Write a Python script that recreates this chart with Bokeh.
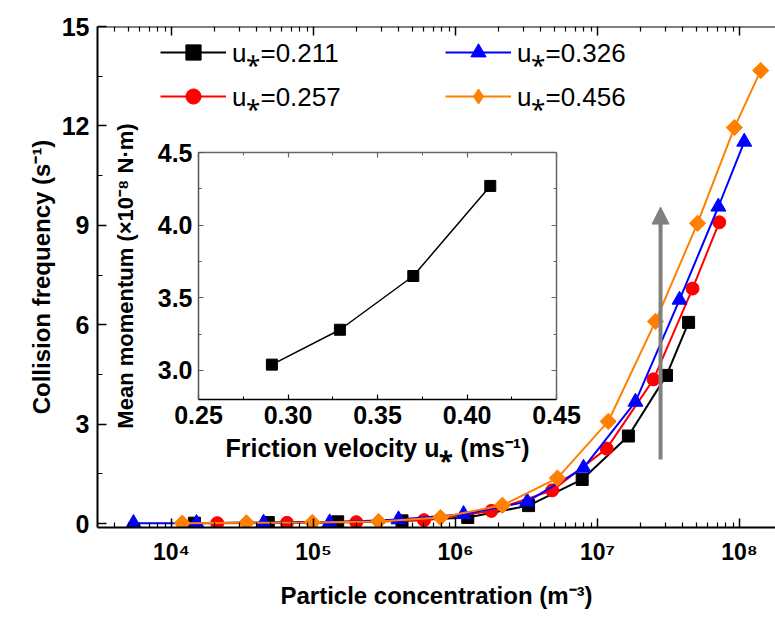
import numpy as np
from bokeh.plotting import figure
from bokeh.models import (Range1d, LinearScale, LinearAxis, LogAxis, FixedTicker,
                          CustomJSTickFormatter, NumeralTickFormatter, Legend, LegendItem,
                          Arrow, NormalHead)
from bokeh.embed import file_html
from bokeh.resources import INLINE

# ---------------- data ----------------
conc_0211 = [1.45e4, 4.8e4, 1.48e5, 4.2e5, 1.22e6, 3.27e6, 7.8e6, 1.65e7, 3.06e7, 4.38e7]
freq_0211 = [0.01, 0.03, 0.05, 0.08, 0.18, 0.54, 1.33, 2.64, 4.47, 6.07]

conc_0257 = [2.1e4, 6.5e4, 2.0e5, 6.0e5, 1.79e6, 4.8e6, 1.16e7, 2.48e7, 4.67e7, 7.2e7]
freq_0257 = [0.01, 0.02, 0.04, 0.10, 0.38, 1.00, 2.26, 4.35, 7.09, 9.09]

conc_0326 = [5.4e3, 1.5e4, 4.45e4, 1.3e5, 3.97e5, 1.14e6, 3.2e6, 7.97e6, 1.85e7, 3.78e7, 7.1e7, 1.08e8]
freq_0326 = [0.01, 0.01, 0.02, 0.03, 0.12, 0.28, 0.66, 1.68, 3.67, 6.75, 9.56, 11.52]

conc_0456 = [1.19e4, 3.37e4, 9.8e4, 2.87e5, 7.84e5, 2.14e6, 5.22e6, 1.19e7, 2.56e7, 5.06e7, 9.2e7, 1.41e8]
freq_0456 = [0.01, 0.02, 0.03, 0.06, 0.18, 0.55, 1.37, 3.08, 6.10, 9.06, 11.95, 13.67]

labels = ["u\u204e=0.211", "u\u204e=0.257", "u\u204e=0.326", "u\u204e=0.456"]

ustar_inset = [0.291, 0.329, 0.370, 0.413]
momentum_inset = [3.04, 3.28, 3.65, 4.27]

x_major = [1e4, 1e5, 1e6, 1e7, 1e8]
x_minor = [k * 10.0 ** e for e in range(3, 9) for k in range(2, 10)]
y_major = [0, 3, 6, 9, 12, 15]
y_minor = [1.5, 4.5, 7.5, 10.5, 13.5]
ix_major = [0.25, 0.30, 0.35, 0.40, 0.45]
ix_minor = [0.275, 0.325, 0.375, 0.425]
iy_major = [3.0, 3.5, 4.0, 4.5]
iy_minor = [3.25, 3.75, 4.25]

# arrow annotation (data coordinates)
ARROW_X = 2.78e7
ARROW_Y0 = 1.93
ARROW_Y1 = 9.55

# ---------------- layout geometry (canvas pixels) ----------------
W, H = 775, 619
FL, FR, FT, FB = 97, 775, 26, 527          # main frame
X4_PX, DEC_PX = 171, 142                   # px of 10^4, px per decade
Y0_PX = 523                                # px of y = 0
IL, IR, IT, IB = 198, 556, 152, 399        # inset box
IX0, IX1, IY0, IY1 = 0.25, 0.45, 2.8, 4.5  # inset ranges

x_start = 10 ** (4 + (FL - X4_PX) / DEC_PX)
x_end = 10 ** (4 + (FR - X4_PX) / DEC_PX)
y_per_px = 15.0 / (Y0_PX - FT)
y_start = -(FB - Y0_PX) * y_per_px

ix_per_px = (IX1 - IX0) / (IR - IL)
iy_per_px = (IY1 - IY0) / (IB - IT)
ix_start = IX0 - (IL - FL) * ix_per_px
ix_end = IX1 + (FR - IR) * ix_per_px
iy_start = IY0 - (FB - IB) * iy_per_px
iy_end = IY1 + (IT - FT) * iy_per_px

ARIAL = "'Liberation Sans', Arial, sans-serif"

p = figure(width=W, height=H, x_axis_type="log",
           x_range=Range1d(x_start, x_end), y_range=Range1d(y_start, 15),
           output_backend="svg", toolbar_location=None,
           min_border_left=FL, min_border_right=W - FR,
           min_border_top=FT, min_border_bottom=H - FB)
p.outline_line_color = None
p.xgrid.grid_line_color = None
p.ygrid.grid_line_color = None
p.background_fill_color = "white"
p.border_fill_color = "white"

p.extra_x_ranges = {"ix": Range1d(ix_start, ix_end)}
p.extra_x_scales = {"ix": LinearScale()}
p.extra_y_ranges = {"iy": Range1d(iy_start, iy_end)}
p.extra_y_scales = {"iy": LinearScale()}

sup_code = """
const sup = {"-":"\u207b","0":"\u2070","1":"\u00b9","2":"\u00b2","3":"\u00b3","4":"\u2074",
             "5":"\u2075","6":"\u2076","7":"\u2077","8":"\u2078","9":"\u2079"};
const e = Math.round(Math.log10(tick));
return "10" + String(e).split("").map(c => sup[c]).join("");
"""

xa = p.xaxis[0]
xa.ticker = FixedTicker(ticks=x_major, minor_ticks=x_minor)
xa.formatter = CustomJSTickFormatter(code=sup_code)
xa.axis_label = "Particle concentration (m\u207b\u00b3)"
ya = p.yaxis[0]
ya.ticker = FixedTicker(ticks=y_major, minor_ticks=y_minor)
ya.axis_label = "Collision frequency (s\u207b\u00b9)"
for ax in (xa, ya):
    ax.axis_line_width = 2
    ax.axis_line_color = "black"
    ax.major_tick_in = 9
    ax.major_tick_out = 0
    ax.minor_tick_in = 5
    ax.minor_tick_out = 0
    ax.major_tick_line_width = 1.5
    ax.minor_tick_line_width = 1.2
    ax.major_label_text_font = ARIAL
    ax.major_label_text_font_style = "bold"
    ax.major_label_text_color = "black"
    ax.axis_label_text_font = ARIAL
    ax.axis_label_text_font_style = "bold"
    ax.axis_label_text_font_size = "24px"
    ax.axis_label_text_color = "black"
xa.major_label_text_font_size = "23px"
ya.major_label_text_font_size = "25px"
xa.major_label_standoff = 11
xa.axis_label_standoff = 14
ya.major_label_standoff = 8
ya.axis_label_standoff = 4

top = LogAxis(fixed_location=15, ticker=FixedTicker(ticks=x_major, minor_ticks=x_minor),
              formatter=CustomJSTickFormatter(code="return '';"),
              axis_line_width=2, major_tick_in=9, major_tick_out=0,
              minor_tick_in=5, minor_tick_out=0,
              major_tick_line_width=1.5, minor_tick_line_width=1.2)
p.add_layout(top, "above")

# ---- main series
series = [
    (conc_0211, freq_0211, "black", "square", 12, 0.0),
    (conc_0257, freq_0257, "#ff0000", "circle", 13, 0.0),
    (conc_0326, freq_0326, "#0000ff", "triangle", 15, 0.0),
    (conc_0456, freq_0456, "#ff8000", "square", 11.5, np.pi / 4),
]
legend_markers = ["square", "circle", "triangle", "diamond"]
rends = []
for (xs, ys, col, mk, sz, ang), lab, lmk in zip(series, labels, legend_markers):
    l = p.line(xs, ys, line_color=col, line_width=2)
    s = p.scatter(xs, ys, marker=mk, size=sz, angle=ang, fill_color=col, line_color=col)
    if lmk != mk:
        # legend-only symbol: a single NaN point, never drawn in the plot
        s = p.scatter(x=[np.nan], y=[np.nan], marker=lmk, size=sz,
                      fill_color=col, line_color=col)
    rends.append((lab, [l, s]))

# ---- legends (two columns)
leg_pos = [(63, 456), (63, 412), (348, 456), (348, 412)]
for (lab, rr), loc in zip(rends, leg_pos):
    leg = Legend(items=[LegendItem(label=lab, renderers=rr)], location=loc,
                 glyph_width=66, glyph_height=38, label_height=38, label_width=20,
                 label_standoff=6, padding=0, margin=0, spacing=0,
                 border_line_color=None, background_fill_alpha=0,
                 label_text_font=ARIAL, label_text_font_size="26px",
                 label_text_color="black")
    p.add_layout(leg, "center")

# ---- arrow
p.add_layout(Arrow(end=NormalHead(size=17, fill_color="#808080", line_color="#808080"),
                   x_start=ARROW_X, y_start=ARROW_Y0, x_end=ARROW_X, y_end=ARROW_Y1,
                   line_color="#808080", line_width=4))

# ---- inset
p.line(ustar_inset, momentum_inset, x_range_name="ix", y_range_name="iy",
       line_color="black", line_width=1.5)
p.scatter(ustar_inset, momentum_inset, x_range_name="ix", y_range_name="iy",
          marker="square", size=11, fill_color="black", line_color="black")


def inset_axis(side, loc, bounds, ticks, minor, fmt, label, col, title_size="23px"):
    ax = LinearAxis(x_range_name="ix", y_range_name="iy", fixed_location=loc, bounds=bounds,
                    ticker=FixedTicker(ticks=ticks, minor_ticks=minor), formatter=fmt,
                    axis_line_color=col, axis_line_width=1.5,
                    major_tick_in=5, major_tick_out=0, minor_tick_in=3, minor_tick_out=0,
                    major_tick_line_color=col, minor_tick_line_color=col,
                    major_tick_line_width=1.2, minor_tick_line_width=1.0,
                    major_label_text_font=ARIAL, major_label_text_font_style="bold",
                    major_label_text_font_size="25px", major_label_text_color="black",
                    major_label_standoff=6)
    if label:
        ax.axis_label = label
        ax.axis_label_text_font = ARIAL
        ax.axis_label_text_font_style = "bold"
        ax.axis_label_text_font_size = title_size
        ax.axis_label_text_color = "black"
    p.add_layout(ax, side)
    return ax


ib = inset_axis("below", IY0, (IX0, IX1), ix_major, ix_minor, NumeralTickFormatter(format="0.00"),
                "Friction velocity u\u204e (ms\u207b\u00b9)", "black", "25px")
ib.axis_label_standoff = 7
il = inset_axis("left", IX0, (IY0, IY1), iy_major, iy_minor, NumeralTickFormatter(format="0.0"),
                "Mean momentum (\u00d710\u207b\u2078 N\u00b7m)", "#555555", "22px")
il.axis_label_standoff = 17
inset_axis("above", IY1, (IX0, IX1), ix_major, ix_minor,
           CustomJSTickFormatter(code="return '';"), None, "#666666")
inset_axis("right", IX1, (IY0, IY1), iy_major, iy_minor,
           CustomJSTickFormatter(code="return '';"), None, "#666666")

open("out.html", "w").write(file_html(p, INLINE))
